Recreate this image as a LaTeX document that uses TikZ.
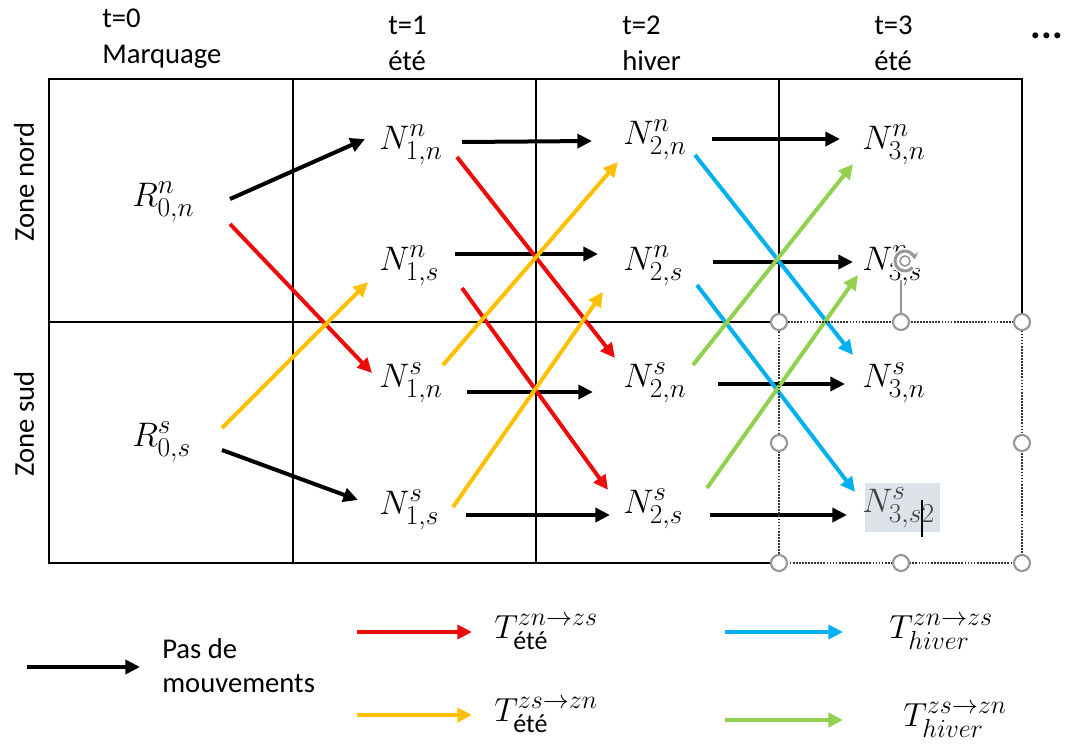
\documentclass[tikz,border=0pt]{standalone}
\usepackage{fix-cm}
\usepackage{fontspec}
\usepackage{amsmath}
\setmainfont{Carlito}
\DeclareMathSizes{25.5}{25.5}{20.5}{15}
\DeclareMathSizes{25}{25}{19.5}{14}
\usetikzlibrary{arrows.meta,calc}
\definecolor{tred}{RGB}{236,12,12}
\definecolor{tyel}{RGB}{255,192,0}
\definecolor{tblu}{RGB}{0,176,240}
\definecolor{tgrn}{RGB}{146,208,80}
\definecolor{hilite}{RGB}{222,227,233}
\definecolor{handle}{RGB}{150,150,150}
\begin{document}
\begin{tikzpicture}[x=0.75pt,y=-0.75pt,
  mv/.style={line width=3pt,-{Triangle[length=11pt,width=10.5pt]}},
  still/.style={mv,black},
  redmv/.style={mv,tred},
  yelmv/.style={mv,tyel},
  blumv/.style={mv,tblu},
  grnmv/.style={mv,tgrn},
  state/.style={inner sep=0pt,anchor=west,font=\fontsize{25.5}{30}\selectfont},
  hdr/.style={inner sep=0pt,anchor=base west,font=\fontsize{21.5}{26}\selectfont},
  legtxt/.style={inner sep=0pt,font=\fontsize{25}{30}\selectfont},
  grid/.style={line width=1.2pt},
  gridthick/.style={line width=1.8pt},
  selbox/.style={densely dotted,line width=1.3pt,black!80},
  knob/.style={circle,draw=handle,fill=white,line width=1.6pt,minimum size=12pt,inner sep=0pt}]
\useasboundingbox (0,0) rectangle (1079,747);

% column headers
\node[hdr] (h0a) at (102,27) {t=0};
\node[hdr] (h0b) at (102,63) {Marquage};
\node[hdr] (h1a) at (388,34) {t=1};
\node[hdr] (h1b) at (388,70) {été};
\node[hdr] (h2a) at (622,34) {t=2};
\node[hdr] (h2b) at (622,70) {hiver};
\node[hdr] (h3a) at (874,34) {t=3};
\node[hdr] (h3b) at (874,70) {été};
\node[inner sep=0pt,font=\fontsize{30}{34}\selectfont\bfseries] (dots) at (1047,36) {...};

% row labels
\node[rotate=90,inner sep=0pt,font=\fontsize{21.5}{26}\selectfont] (zn) at (24,182) {Zone nord};
\node[rotate=90,inner sep=0pt,font=\fontsize{21.5}{26}\selectfont] (zs) at (24,424) {Zone sud};

% table frame
\draw[grid] (779,563) -- (49,563) -- (49,79) -- (1022,79) -- (1022,322);
\draw[grid] (49,322) -- (779,322);
\draw[line width=1pt] (293,79) -- (293,563);
\draw[gridthick] (536,79) -- (536,563);
\draw[gridthick] (779,79) -- (779,322);

% states
\node[state] (rn) at (132,202) {$R^{n}_{0,n}$};
\node[state] (rs) at (132,442) {$R^{s}_{0,s}$};
\node[state] (a1) at (379,145) {$N^{n}_{1,n}$};
\node[state] (b1) at (379,266) {$N^{n}_{1,s}$};
\node[state] (c1) at (379,383) {$N^{s}_{1,n}$};
\node[state] (d1) at (379,510) {$N^{s}_{1,s}$};
\node[state] (a2) at (623,140) {$N^{n}_{2,n}$};
\node[state] (b2) at (623,266) {$N^{n}_{2,s}$};
\node[state] (c2) at (623,383) {$N^{s}_{2,n}$};
\node[state] (d2) at (623,509) {$N^{s}_{2,s}$};
\node[state] (a3) at (862,145) {$N^{n}_{3,n}$};
\node[state] (b3) at (862,266) {$N^{n}_{3,s}$};
\node[state] (c3) at (862,383) {$N^{s}_{3,n}$};
\fill[hilite] (865,483) rectangle (940,532);
\node[state,text=black!75] (d3) at (862,508) {$N^{s}_{3,s2}$};

% no movement
\draw[still] ($(rn.west)+(98,-3)$) -- ($(a1.west)+(-14,-6)$);
\draw[still] ($(rs.west)+(90,8)$) -- ($(d1.west)+(-21,-10)$);
\draw[still] ($(a1.west)+(83,-3)$) -- ($(a2.west)+(-31,1)$);
\draw[still] ($(b1.west)+(76,-12)$) -- ($(b2.west)+(-25,-12)$);
\draw[still] ($(c1.west)+(88,9)$) -- ($(c2.west)+(-30,9)$);
\draw[still] ($(d1.west)+(87,5)$) -- ($(d2.west)+(-13,6)$);
\draw[still] ($(a2.west)+(89,-1)$) -- ($(a3.west)+(-22,-6)$);
\draw[still] ($(b2.west)+(90,-4)$) -- ($(b3.west)+(-9,-4)$);
\draw[still] ($(c2.west)+(95,1)$) -- ($(c3.west)+(-17,1)$);
\draw[still] ($(d2.west)+(87,6)$) -- ($(d3.west)+(-15,7)$);

% summer, north to south
\draw[redmv] ($(rn.west)+(98,22)$) -- ($(c1.west)+(-7,-10)$);
\draw[redmv] ($(a1.west)+(78,12)$) -- ($(c2.west)+(-8,-25)$);
\draw[redmv] ($(b1.west)+(83,22)$) -- ($(d2.west)+(-15,-19)$);
% summer, south to north
\draw[yelmv] ($(rs.west)+(90,-14)$) -- ($(b1.west)+(-11,16)$);
\draw[yelmv] ($(c1.west)+(64,-18)$) -- ($(a2.west)+(-5,22)$);
\draw[yelmv] ($(d1.west)+(74,-3)$) -- ($(b2.west)+(-20,26)$);
% winter, north to south
\draw[blumv] ($(a2.west)+(72,15)$) -- ($(c3.west)+(-9,-28)$);
\draw[blumv] ($(b2.west)+(74,19)$) -- ($(d3.west)+(-7,-16)$);
% winter, south to north
\draw[grnmv] ($(c2.west)+(70,-18)$) -- ($(a3.west)+(-9,19)$);
\draw[grnmv] ($(d2.west)+(84,-21)$) -- ($(b3.west)+(-4,9)$);

% selected text box in the last cell
\draw[selbox] (779,322) -- (1022,322) -- (1022,563) -- (779,563) -- cycle;
\draw[handle,line width=0.8pt] (901,322) -- (901,280);
\fill[white] (905,261) circle[radius=13];
\draw[handle,line width=2.2pt,-{Stealth[length=5pt,width=7pt]}] (905,261) ++(40:10) arc[start angle=40,end angle=350,radius=10];
\draw[handle,line width=1.2pt] (905,261) circle[radius=5];
\draw[line width=0.8pt] (922,500) -- (922,537);
\foreach \p in {(779,322),(901,322),(1022,322),(779,443),(1022,443),(779,563),(901,563),(1022,563)}
  \node[knob] at \p {};

% legend
\coordinate (k1) at (27,667);  \coordinate (k2) at (140,667);
\coordinate (r1) at (357,632); \coordinate (r2) at (472,632);
\coordinate (y1) at (357,715); \coordinate (y2) at (472,715);
\coordinate (u1) at (725,632); \coordinate (u2) at (843,632);
\coordinate (g1) at (725,720); \coordinate (g2) at (843,720);
\draw[still] (k1) -- (k2);
\draw[redmv] (r1) -- (r2);
\draw[yelmv] (y1) -- (y2);
\draw[blumv] (u1) -- (u2);
\draw[grnmv] (g1) -- (g2);
\node[hdr] (lk1) at (162,658) {Pas de};
\node[hdr] (lk2) at (162,692) {mouvements};
\node[legtxt] (lr) at (546,632) {$T^{zn\rightarrow zs}_{\text{été}}$};
\node[legtxt] (ly) at (546,715) {$T^{zs\rightarrow zn}_{\text{été}}$};
\node[legtxt] (lu) at (941,632) {$T^{zn\rightarrow zs}_{hiver}$};
\node[legtxt] (lg) at (955,720) {$T^{zs\rightarrow zn}_{hiver}$};
\end{tikzpicture}
\end{document}
